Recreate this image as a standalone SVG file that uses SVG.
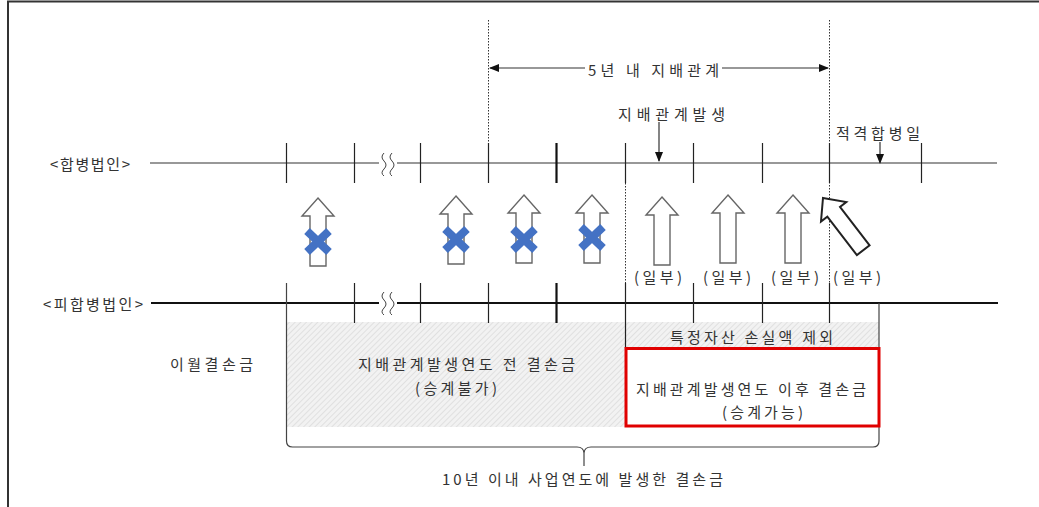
<svg xmlns="http://www.w3.org/2000/svg" width="1039" height="507" viewBox="0 0 1039 507">
<style>
.t{font-family:"Noto Sans CJK KR","Noto Sans",sans-serif;font-size:15px;fill:#333;dominant-baseline:central}
.ln{stroke:#333;stroke-width:1.2;fill:none}
.tk{stroke:#222;stroke-width:1.2}
.tkb{stroke:#111;stroke-width:2.2}
.dot{stroke:#333;stroke-width:1;stroke-dasharray:1.5 1.5;fill:none}
.ua{fill:#fff;stroke:#666;stroke-width:1.4}
.x{stroke:#4472C4;stroke-width:8;stroke-linecap:butt}
</style>
<defs>
<pattern id="h" width="4" height="4" patternUnits="userSpaceOnUse" patternTransform="rotate(45)">
<rect width="4" height="4" fill="#f2f2f2"/>
<line x1="0" y1="0" x2="0" y2="4" stroke="#d4d4d4" stroke-width="1.2"/>
</pattern>
<marker id="ah" markerWidth="10" markerHeight="8" refX="9" refY="4" orient="auto" markerUnits="userSpaceOnUse">
<path d="M0,0 L10,4 L0,8 Z" fill="#111"/>
</marker>
<path id="up" d="M0,0 L16,18 L8,18 L8,68 L-8,68 L-8,18 L-16,18 Z"/>
</defs>
<rect width="1039" height="507" fill="#fff"/>
<path d="M7,1.5 H1039 M8,1 V507" stroke="#333" stroke-width="2" fill="none"/>

<g id="hatch-areas">
<rect x="287" y="322" width="338" height="105" fill="url(#h)"/>
<rect x="625" y="322" width="254" height="26" fill="url(#h)"/>
</g>

<g id="connectors">
<line class="dot" x1="488.5" y1="20" x2="488.5" y2="143"/>
<line class="dot" x1="829.5" y1="20" x2="829.5" y2="283"/>
<line class="dot" x1="625.5" y1="183" x2="625.5" y2="283"/>
<line class="ln" x1="585" y1="68" x2="490" y2="68" marker-end="url(#ah)"/>
<line class="ln" x1="722" y1="68" x2="828" y2="68" marker-end="url(#ah)"/>
<line class="ln" x1="659" y1="122" x2="659" y2="161" marker-end="url(#ah)"/>
<line class="ln" x1="880" y1="142" x2="880" y2="163" marker-end="url(#ah)"/>
<line class="ln" x1="150" y1="163" x2="997" y2="163"/>
<g class="tk">
<line x1="286.5" y1="143" x2="286.5" y2="183"/>
<line x1="354.5" y1="143" x2="354.5" y2="183"/>
<line x1="420.5" y1="143" x2="420.5" y2="183"/>
<line x1="488.5" y1="143" x2="488.5" y2="183"/>
<line x1="625.5" y1="143" x2="625.5" y2="183"/>
<line x1="693.5" y1="143" x2="693.5" y2="183"/>
<line x1="762.5" y1="143" x2="762.5" y2="183"/>
<line x1="829.5" y1="143" x2="829.5" y2="183"/>
<line x1="921.5" y1="143" x2="921.5" y2="183"/>
</g>
<line class="tkb" x1="556.5" y1="143" x2="556.5" y2="183"/>
<rect x="379" y="158" width="18" height="10" fill="#fff"/>
<path d="M384,153 q-4,4 0,8 q4,4 0,8 q-4,4 0,7 M392,153 q-4,4 0,8 q4,4 0,8 q-4,4 0,7" fill="none" stroke="#444" stroke-width="1"/>
<line x1="151" y1="303" x2="998" y2="303" stroke="#111" stroke-width="2.2"/>
<g class="tk">
<line x1="354.5" y1="283" x2="354.5" y2="323"/>
<line x1="420.5" y1="283" x2="420.5" y2="323"/>
<line x1="488.5" y1="283" x2="488.5" y2="323"/>
<line x1="625.5" y1="283" x2="625.5" y2="348"/>
<line x1="693.5" y1="283" x2="693.5" y2="323"/>
<line x1="762.5" y1="283" x2="762.5" y2="323"/>
<line x1="829.5" y1="283" x2="829.5" y2="323"/>
</g>
<line class="tkb" x1="556.5" y1="283" x2="556.5" y2="323"/>
<rect x="379" y="298" width="18" height="10" fill="#fff"/>
<path d="M384,292 q-4,4 0,8 q4,4 0,8 q-4,4 0,7 M392,292 q-4,4 0,8 q4,4 0,8 q-4,4 0,7" fill="none" stroke="#444" stroke-width="1"/>
<path d="M286.5,283 V441 Q286.5,447 292.5,447 H577 Q583.5,447 584,453 V466 M584,453 Q584.5,447 591,447 H873 Q879,447 879,441 V303" fill="none" stroke="#444" stroke-width="1.2"/>
</g>

<g id="arrows-blocked">
<use href="#up" class="ua" transform="translate(318,198)"/>
<use href="#up" class="ua" transform="translate(456,196)"/>
<use href="#up" class="ua" transform="translate(524,195)"/>
<use href="#up" class="ua" transform="translate(592,195)"/>
<path class="x" d="M307,231 L329,252 M329,231 L307,252"/>
<path class="x" d="M445,229 L467,250 M467,229 L445,250"/>
<path class="x" d="M513,229 L535,250 M535,229 L513,250"/>
<path class="x" d="M581,227 L603,248 M603,227 L581,248"/>
</g>

<g id="arrows-partial">
<use href="#up" class="ua" transform="translate(662,197)"/>
<use href="#up" class="ua" transform="translate(728,195)"/>
<use href="#up" class="ua" transform="translate(793,195)"/>
<use href="#up" fill="#fff" stroke="#222" stroke-width="2" transform="translate(823,198) rotate(-37.6) scale(1,0.97)"/>
</g>

<g id="labels">
<text class="t" x="50" y="163" textLength="80" lengthAdjust="spacing">&lt;합병법인&gt;</text>
<text class="t" x="43" y="303" textLength="100" lengthAdjust="spacing">&lt;피합병법인&gt;</text>
<text class="t" x="588" y="69" textLength="131" lengthAdjust="spacing">5년 내 지배관계</text>
<text class="t" x="618" y="113" textLength="107" lengthAdjust="spacing">지배관계발생</text>
<text class="t" x="836" y="132" textLength="84" lengthAdjust="spacing">적격합병일</text>
<text class="t" x="634" y="276" textLength="48" lengthAdjust="spacing">(일부)</text>
<text class="t" x="703" y="276" textLength="48" lengthAdjust="spacing">(일부)</text>
<text class="t" x="771" y="276" textLength="48" lengthAdjust="spacing">(일부)</text>
<text class="t" x="833" y="276" textLength="48" lengthAdjust="spacing">(일부)</text>
</g>

<g id="node-carryover">
<text class="t" x="170" y="363" textLength="83" lengthAdjust="spacing">이월결손금</text>
</g>
<g id="node-before">
<text class="t" x="358" y="363" textLength="217" lengthAdjust="spacing">지배관계발생연도 전 결손금</text>
<text class="t" x="415" y="387" textLength="82" lengthAdjust="spacing">(승계불가)</text>
</g>
<g id="node-excluded">
<text class="t" x="670" y="336" textLength="163" lengthAdjust="spacing">특정자산 손실액 제외</text>
</g>
<g id="node-after">
<rect x="626" y="348.5" width="253" height="77.5" fill="#fff" stroke="#e00000" stroke-width="3"/>
<text class="t" x="636" y="388" textLength="230" lengthAdjust="spacing">지배관계발생연도 이후 결손금</text>
<text class="t" x="722" y="411" textLength="81" lengthAdjust="spacing">(승계가능)</text>
</g>
<g id="node-total">
<text class="t" x="442" y="478" textLength="281" lengthAdjust="spacing">10년 이내 사업연도에 발생한 결손금</text>
</g>
</svg>
